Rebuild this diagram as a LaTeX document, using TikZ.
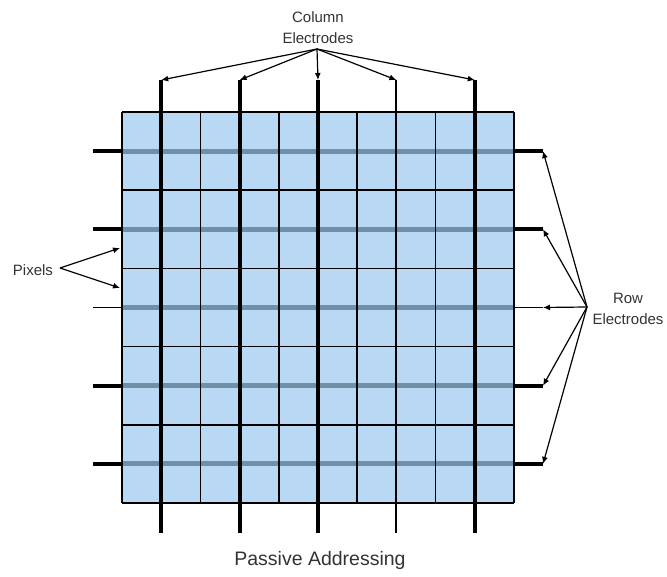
\documentclass[tikz,border=0pt]{standalone}
\usepackage{fontspec}
\setmainfont{Liberation Sans}
\definecolor{cellblue}{HTML}{B8D8F4}
\definecolor{bandblue}{HTML}{7090A8}

\tikzstyle{callout} = [font=\fontsize{15}{21}\selectfont, align=center, text=black!80]
\tikzstyle{caption} = [font=\fontsize{19.5}{24}\selectfont, text=black!80]
\tikzstyle{electrode} = [line width=4pt]
\tikzstyle{thinelectrode} = [line width=1.5pt]
\tikzstyle{pointer} = [-{Latex[length=7pt,width=6pt]}, line width=1.2pt]

\usetikzlibrary{arrows.meta}

\begin{document}
\begin{tikzpicture}[x=1pt, y=-1pt]
  \useasboundingbox (0,0) rectangle (667,577);

  % panel of pixels
  \fill [cellblue] (122,112) rectangle (514,503);
  \foreach \y in {151.1,229.3,307.5,385.7,463.9}
    \draw [bandblue, line width=5pt] (122,\y) -- (514,\y);
  \foreach \i in {0,...,10}
    \draw [line width=1.5pt] (122+39.2*\i,112) -- (122+39.2*\i,503);
  \foreach \j in {0,...,5}
    \draw [line width=1.5pt] (122,112+78.2*\j) -- (514,112+78.2*\j);

  % column electrodes
  \coordinate (c1) at (161.2,80);  \coordinate (c1b) at (161.2,533);
  \coordinate (c2) at (239.6,80);  \coordinate (c2b) at (239.6,533);
  \coordinate (c3) at (318,80);    \coordinate (c3b) at (318,533);
  \coordinate (c4) at (396.4,80);  \coordinate (c4b) at (396.4,533);
  \coordinate (c5) at (474.8,80);  \coordinate (c5b) at (474.8,533);
  \draw [electrode] (c1) -- (c1b);
  \draw [electrode] (c2) -- (c2b);
  \draw [electrode] (c3) -- (c3b);
  \draw [line width=2pt] (c4) -- (c4b);
  \draw [electrode] (c5) -- (c5b);

  % row electrode ends
  \coordinate (l1) at (93,151.1);  \coordinate (r1) at (543,151.1);
  \coordinate (l2) at (93,229.3);  \coordinate (r2) at (543,229.3);
  \coordinate (l3) at (93,307.5);  \coordinate (r3) at (543,307.5);
  \coordinate (l4) at (93,385.7);  \coordinate (r4) at (543,385.7);
  \coordinate (l5) at (93,463.9);  \coordinate (r5) at (543,463.9);
  \draw [electrode] (l1) -- (122,151.1)  (514,151.1) -- (r1);
  \draw [electrode] (l2) -- (122,229.3)  (514,229.3) -- (r2);
  \draw [thinelectrode] (l3) -- (122,307.5)  (514,307.5) -- (r3);
  \draw [electrode] (l4) -- (122,385.7)  (514,385.7) -- (r4);
  \draw [electrode] (l5) -- (122,463.9)  (514,463.9) -- (r5);

  % labels
  \node (colLabel) at (318,27.5) [callout] {Column\\Electrodes};
  \node (rowLabel) at (628,309) [callout] {Row\\Electrodes};
  \node (pixLabel) at (33,270) [callout] {Pixels};
  \node (title) at (320,560) [caption] {Passive Addressing};

  \coordinate (colHub) at (317,49);
  \coordinate (rowHub) at (587,307);
  \coordinate (pixHub) at (60,268);
  \coordinate (p1) at (120,248);
  \coordinate (p2) at (120,288);

  \draw [pointer] (colHub) to (c1);
  \draw [pointer] (colHub) to (c2);
  \draw [pointer] (colHub) to (c3);
  \draw [pointer] (colHub) to (c4);
  \draw [pointer] (colHub) to (c5);

  \draw [pointer] (rowHub) to (r1);
  \draw [pointer] (rowHub) to (r2);
  \draw [pointer] (rowHub) to (r3);
  \draw [pointer] (rowHub) to (r4);
  \draw [pointer] (rowHub) to (r5);

  \draw [pointer] (pixHub) to (p1);
  \draw [pointer] (pixHub) to (p2);
\end{tikzpicture}
\end{document}
